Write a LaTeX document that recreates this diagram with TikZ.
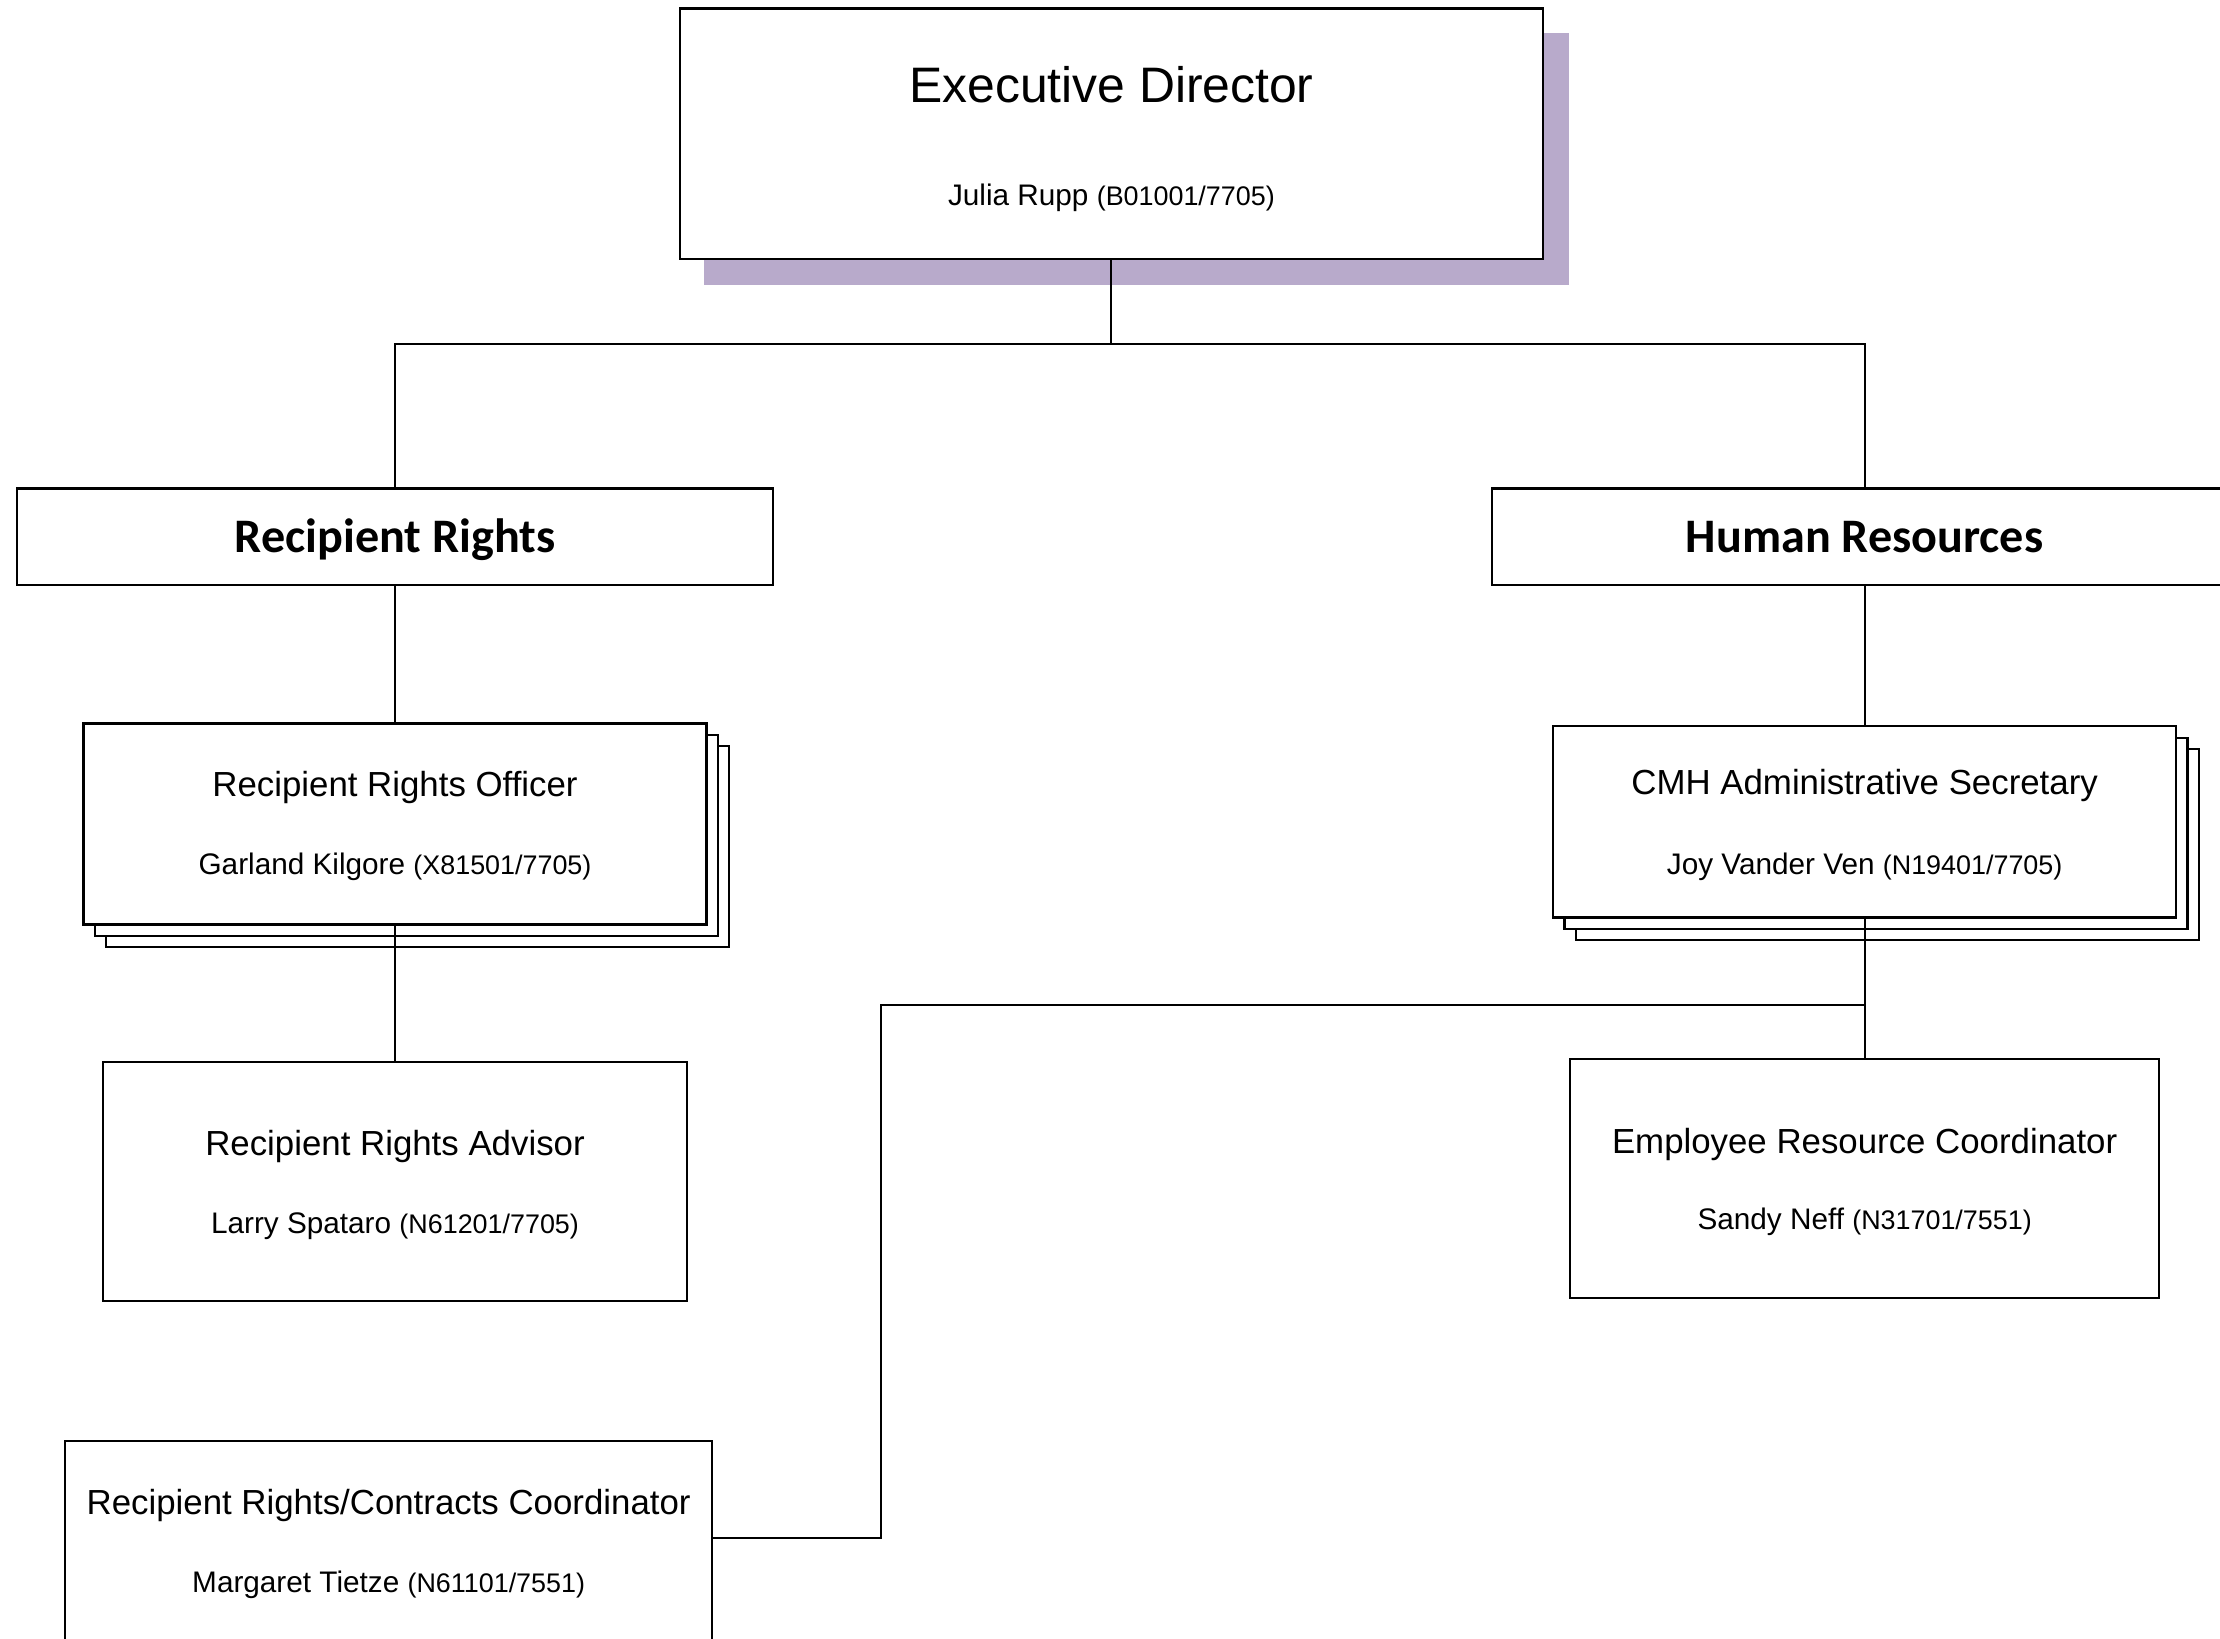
\documentclass[tikz,border=0pt]{standalone}
\usepackage{fontspec}
\setmainfont{Liberation Sans}
\newfontfamily\hdrfont{Carlito}
\usetikzlibrary{calc,shadows}
\definecolor{shadowc}{HTML}{B8AACB}
\newcommand{\codesz}{\fontsize{9.5}{11}\selectfont}
\begin{document}
\begin{tikzpicture}[x=0.5pt,y=-0.5pt,
  box/.style={draw=black, fill=white, rectangle, inner sep=0pt, line width=0.75pt},
  stackbox/.style={box, double copy shadow={shadow xshift=4pt, shadow yshift=-4pt}},
  ttl/.style={font=\fontsize{12.3}{14}\selectfont, inner sep=0pt, yshift=-1pt},
  nm/.style={font=\fontsize{10.5}{12}\selectfont, inner sep=0pt, yshift=-1pt},
  hdr/.style={font=\hdrfont\bfseries\fontsize{17}{20}\selectfont, inner sep=0pt, anchor=base},
  conn/.style={draw=black, line width=0.7pt}]
\useasboundingbox (0,0) rectangle (1568,1157);
\fill[white] (0,0) rectangle (1568,1157);

% Executive director
\fill[shadowc] (497,23) rectangle (1108,201);
\node[box, minimum width=305pt, minimum height=88.5pt] (ex) at (785,94.5) {};
\node[font=\fontsize{17.6}{20}\selectfont, inner sep=0pt] (ext) at (785,60) {Executive Director};
\node[nm] (exn) at (785,138) {Julia Rupp {\codesz(B01001/7705)}};

% Departments
\node[box, minimum width=267pt, minimum height=34pt] (rr) at (279,379) {};
\node[hdr] (rrt) at (279,390) {Recipient Rights};
\node[box, minimum width=263pt, minimum height=34pt] (hr) at (1317,379) {};
\node[hdr] (hrt) at (1317,390) {Human Resources};

% Recipient Rights Officer
\node[stackbox, minimum width=220pt, minimum height=71pt] (rro) at (279,582) {};
\node[ttl] (rrot) at (279,554) {Recipient Rights Officer};
\node[nm] (rron) at (279,610) {Garland Kilgore {\codesz(X81501/7705)}};

% CMH Administrative Secretary
\node[stackbox, minimum width=220pt, minimum height=67.5pt] (cmh) at (1317,580.5) {};
\node[ttl] (cmht) at (1317,553) {CMH Administrative Secretary};
\node[nm] (cmhn) at (1317,610) {Joy Vander Ven {\codesz(N19401/7705)}};

% Recipient Rights Advisor
\node[box, minimum width=206pt, minimum height=84.5pt] (rra) at (279,834.5) {};
\node[ttl] (rrat) at (279,808) {Recipient Rights Advisor};
\node[nm] (rran) at (279,864) {Larry Spataro {\codesz(N61201/7705)}};

% Employee Resource Coordinator
\node[box, minimum width=208pt, minimum height=84.5pt] (erc) at (1317,832.5) {};
\node[ttl] (erct) at (1317,806) {Employee Resource Coordinator};
\node[nm] (ercn) at (1317,861) {Sandy Neff {\codesz(N31701/7551)}};

% Recipient Rights/Contracts Coordinator
\node[box, minimum width=228.5pt, minimum height=84.5pt] (rrcc) at (274.5,1102.5) {};
\node[ttl] (rrcct) at (274.5,1061) {Recipient Rights/Contracts Coordinator};
\node[nm] (rrccn) at (274.5,1117) {Margaret Tietze {\codesz(N61101/7551)}};

% Connectors
\coordinate (bus) at (785,243);
\draw[conn] (ex.south) -- (bus) -| (rr.north);
\draw[conn] (bus) -| (hr.north);
\draw[conn] (rr.south) -- (rro.north);
\draw[conn] (rro.south) -- (rra.north);
\draw[conn] (hr.south) -- (cmh.north);
\draw[conn] (cmh.south) -- (erc.north);
\coordinate (j) at (1317,710);
\coordinate (k) at (622,710);
\coordinate (m) at ($(rrcc.north east)+(0,69)$);
\draw[conn] (j) -- (k) -- (k |- m) -- (m);
\end{tikzpicture}
\end{document}
